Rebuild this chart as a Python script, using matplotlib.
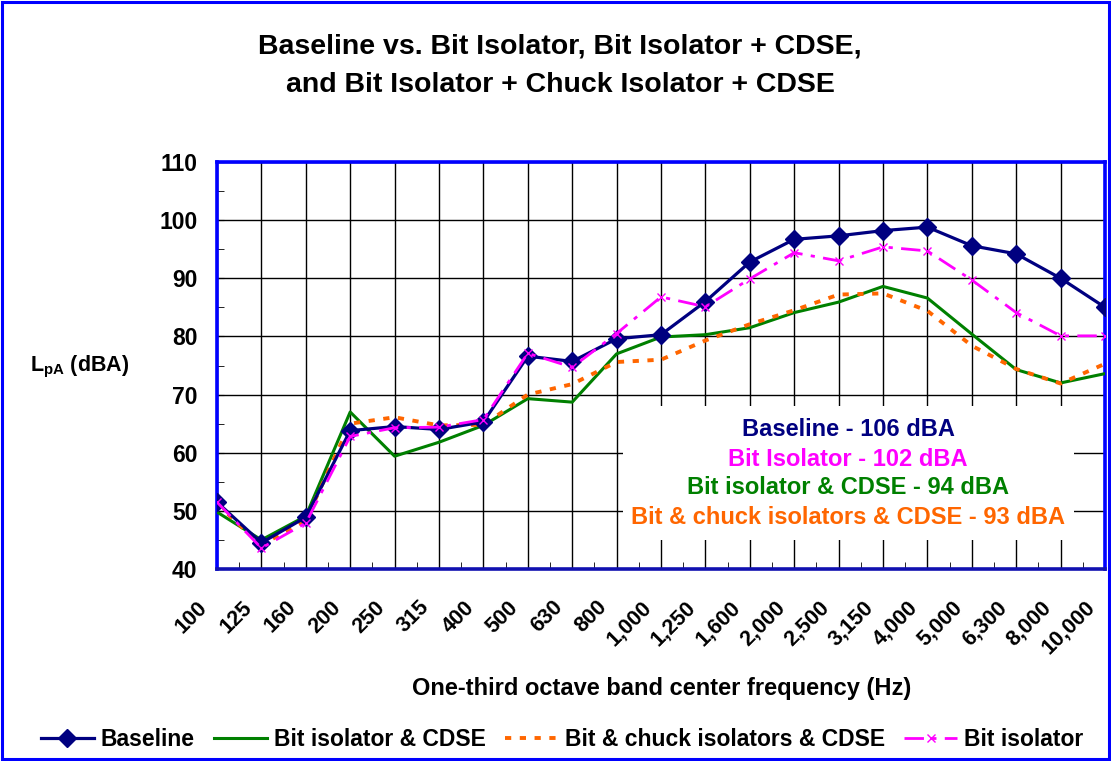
import matplotlib
matplotlib.use("Agg")
import matplotlib.pyplot as plt
import numpy as np
from matplotlib.patches import Rectangle
from matplotlib.transforms import ScaledTranslation

plt.rcParams['font.family'] = ['Liberation Sans', 'DejaVu Sans']
plt.rcParams['font.weight'] = 'bold'
plt.rcParams['mathtext.fontset'] = 'custom'
plt.rcParams['mathtext.bf'] = 'Liberation Sans:bold'
plt.rcParams['mathtext.rm'] = 'Liberation Sans:bold'

freq_labels = ["100", "125", "160", "200", "250", "315", "400", "500", "630", "800",
               "1,000", "1,250", "1,600", "2,000", "2,500", "3,150", "4,000", "5,000",
               "6,300", "8,000", "10,000"]

baseline = [51.5, 44.5, 48.9, 63.8, 64.5, 64.0, 65.3, 76.6, 75.7, 79.6,
            80.3, 86.0, 92.8, 96.7, 97.3, 98.2, 98.8, 95.6, 94.2, 90.0, 85.0]
bit_isolator = [51.5, 43.6, 47.9, 62.8, 64.3, 64.4, 65.7, 77.1, 74.7, 80.5,
                86.8, 85.1, 89.9, 94.4, 93.0, 95.4, 94.7, 89.7, 84.1, 80.1, 80.1]
bit_cdse = [49.8, 45.0, 49.1, 67.0, 59.4, 61.8, 64.7, 69.3, 68.7, 77.0,
            79.9, 80.3, 81.5, 84.1, 85.9, 88.6, 86.6, 80.4, 74.3, 72.0, 73.6]
bit_chuck_cdse = [51.2, 44.1, 48.4, 65.0, 66.1, 64.7, 64.8, 70.0, 71.8, 75.6,
                  76.0, 79.3, 82.1, 84.5, 87.2, 87.4, 84.4, 78.4, 74.4, 71.9, 75.3]

overall_labels = ["Baseline - 106 dBA", "Bit Isolator - 102 dBA",
                  "Bit isolator & CDSE - 94 dBA", "Bit & chuck isolators & CDSE - 93 dBA"]

title_text = "Baseline vs. Bit Isolator, Bit Isolator + CDSE,\nand Bit Isolator + Chuck Isolator + CDSE"

NAVY = '#000080'
MAGENTA = '#FF00FF'
GREEN = '#008000'
ORANGE = '#FF6600'
BLUE = '#0000FF'

fig = plt.figure(figsize=(11.11, 7.61), dpi=100)
fig.patch.set_facecolor('white')
ax = fig.add_axes([217/1111, 1-569/761, (1105-217)/1111, (569-162)/761])

x = np.arange(len(freq_labels))

l_base, = ax.plot(x, baseline, color=NAVY, lw=2.3, marker='D', markersize=9,
                  markerfacecolor=NAVY, markeredgecolor=NAVY, zorder=5, label='Baseline')
l_cdse, = ax.plot(x, bit_cdse, color=GREEN, lw=2.2, zorder=3, label='Bit isolator & CDSE')
l_chuck, = ax.plot(x, bit_chuck_cdse, color=ORANGE, lw=2.8, linestyle=(0, (1.6, 2.2)),
                   zorder=4, label='Bit & chuck isolators & CDSE')
l_iso, = ax.plot(x, bit_isolator, color=MAGENTA, lw=2.0, linestyle=(0, (7, 3, 1.5, 3)),
                 marker='x', markersize=6, markeredgewidth=1.0, zorder=6, label='Bit isolator')

ax.set_xlim(0, 20)
ax.set_ylim(40, 110)
ax.set_xticks(x)
ax.set_xticks(np.arange(0.5, 20, 1), minor=True)
ax.set_yticks(np.arange(40, 111, 10))
ax.set_yticks(np.arange(45, 110, 10), minor=True)
ax.grid(True, which='major', color='black', lw=1.0)
ax.set_axisbelow(True)

ax.tick_params(axis='both', which='both', direction='in', colors='black')
ax.tick_params(axis='y', which='major', length=5, pad=14, labelsize=16.5)
ax.tick_params(axis='y', which='minor', length=5)
ax.tick_params(axis='x', which='major', length=0, pad=20, labelsize=15.5)
ax.tick_params(axis='x', which='minor', length=5)

ax.set_yticklabels([str(v) for v in range(40, 111, 10)], fontweight='bold')
ax.set_xticklabels(freq_labels, rotation=45, ha='right', va='top',
                   rotation_mode='anchor', fontweight='bold')
offset = ScaledTranslation(-20/100, 0, fig.dpi_scale_trans)
for lab in ax.get_xticklabels():
    lab.set_transform(lab.get_transform() + offset)

for side in ['left', 'right', 'top']:
    ax.spines[side].set_color(BLUE)
    ax.spines[side].set_linewidth(2.6)
ax.spines['bottom'].set_color('#1010B0')
ax.spines['bottom'].set_linewidth(2.6)

# white box behind overall-level annotations
ax.add_patch(Rectangle(((623-217)/888, (569-540)/407), (1074-623)/888, (540-406)/407,
                       transform=ax.transAxes, facecolor='white', edgecolor='none', zorder=1))
tx = (848-217)/888
ys = [430, 459, 488, 518]
for txt, col, yp in zip(overall_labels, [NAVY, MAGENTA, GREEN, ORANGE], ys):
    ax.text(tx, (569-yp)/407, txt, transform=ax.transAxes, ha='center', va='center',
            color=col, fontsize=17, fontweight='bold', zorder=7)

fig.text(560/1111, 1-66/761, title_text, ha='center', va='center', fontsize=20.5,
         fontweight='bold', linespacing=1.6)
fig.text(30/1111, 1-367/761, r'L$_{\mathbf{pA}}$ (dBA)', ha='left', va='center',
         fontsize=15.5, fontweight='bold')
fig.text(662/1111, 1-688/761, 'One-third octave band center frequency (Hz)',
         ha='center', va='center', fontsize=17, fontweight='bold')

leg = fig.legend(handles=[l_base, l_cdse, l_chuck, l_iso], loc='center',
                 bbox_to_anchor=(562/1111, 1-740/761), ncol=4, frameon=False,
                 prop={'size': 16.5, 'weight': 'bold'}, handlelength=2.3,
                 handletextpad=0.3, columnspacing=0.85)

fig.patches.append(Rectangle((0.002, 0.003), 0.996, 0.994, transform=fig.transFigure,
                             fill=False, edgecolor=BLUE, lw=2.2))

fig.savefig('out.png', dpi=100)
